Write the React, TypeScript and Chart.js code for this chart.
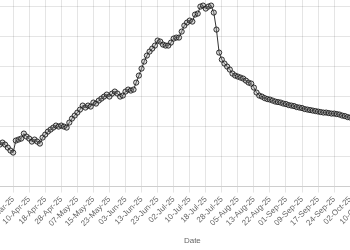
import React, { useEffect, useRef } from "react";
import { Chart, registerables } from "chart.js";

Chart.register(...registerables);

// Tick labels (every 6th category)
const TICK_LABELS = [
  "21-Mar-25", "31-Mar-25", "10-Apr-25", "18-Apr-25", "28-Apr-25", "07-May-25",
  "15-May-25", "23-May-25", "03-Jun-25", "13-Jun-25", "23-Jun-25", "02-Jul-25",
  "10-Jul-25", "18-Jul-25", "28-Jul-25", "05-Aug-25", "13-Aug-25", "22-Aug-25",
  "01-Sep-25", "09-Sep-25", "17-Sep-25", "24-Sep-25", "02-Oct-25", "10-Oct-25",
  "17-Oct-25",
];
const TICK_EVERY = 6;

// Series values (one per category)
const VALUES = [
  43, 42, 44, 42, 39, 36, 34, 46, 47, 48, 53, 50, 48, 45, 47, 45, 43, 49, 52, 55,
  57, 59, 61, 60, 61, 60, 59, 64, 68, 71, 74, 77, 81, 79, 81, 80, 84, 83, 86, 88,
  90, 92, 90, 93, 95, 93, 90, 91, 95, 97, 96, 97, 104, 111, 118, 125, 131, 135, 138, 141,
  146, 145, 142, 141, 141, 144, 148, 149, 149, 155, 161, 164, 166, 165, 172, 173, 180, 181, 178, 180,
  181, 174, 157, 134, 127, 123, 120, 117, 113, 111, 110, 109, 108, 106, 104, 103, 99, 94, 91, 90,
  88.5, 87.5, 87, 86, 85, 84.5, 84, 83, 82.5, 81.5, 81, 80.5, 79.5, 79, 78.5, 77.5, 77, 76.5, 76, 75.5,
  75, 74.5, 74, 74, 73.5, 73, 73, 72.5, 72, 71, 70.5, 69.5, 69, 68.5, 68, 67.5, 67, 66.5, 66, 65.5,
  65, 64.5, 64, 63.5, 63, 62.5, 62,
];

const Y_MIN = 0;
const Y_MAX = 210;
const Y_STEP = 30;

const LABELS = VALUES.map((_, i) =>
  i % TICK_EVERY === 0 ? TICK_LABELS[i / TICK_EVERY] ?? "" : ""
);

// Visible crop placement of the plot area (viewport pixels)
const AREA_LEFT = -3.05;
const AREA_WIDTH = 390.55;
const AREA_BOTTOM = 187;
const AREA_HEIGHT = 210;

export default function App() {
  const ref = useRef<HTMLCanvasElement | null>(null);

  useEffect(() => {
    const canvas = ref.current!;
    const W = 700;
    const H = 420;
    canvas.width = W;
    canvas.height = H;
    const font = { family: "'Liberation Sans', Arial, sans-serif", size: 8 };
    const chart = new Chart(canvas, {
      type: "line",
      data: {
        labels: LABELS,
        datasets: [
          {
            label: "Value",
            data: VALUES,
            borderColor: "rgba(30,30,30,0.9)",
            borderWidth: 1,
            pointRadius: 2.6,
            pointBorderWidth: 1,
            pointBorderColor: "rgba(20,20,20,0.85)",
            pointBackgroundColor: "rgba(150,150,150,0.35)",
            tension: 0,
            fill: false,
          },
        ],
      },
      options: {
        responsive: false,
        maintainAspectRatio: false,
        animation: false,
        layout: { padding: 0 },
        plugins: { legend: { display: false }, tooltip: { enabled: false } },
        scales: {
          x: {
            type: "category",
            grid: { color: "rgba(0,0,0,0.1)", tickLength: 6 },
            border: { color: "rgba(0,0,0,0.1)" },
            ticks: {
              autoSkip: false,
              minRotation: 45,
              maxRotation: 45,
              padding: 2,
              color: "#666",
              font,
              callback: function (this: any, value: any, index: number) {
                if (index % TICK_EVERY !== 0) return null;
                return LABELS[index];
              },
            },
            title: {
              display: true,
              text: "Date",
              color: "#666",
              font: { ...font, size: 8 },
              padding: { top: 6, bottom: 4 },
            },
          },
          y: {
            min: Y_MIN,
            max: Y_MAX,
            ticks: { display: false, stepSize: Y_STEP },
            grid: { color: "rgba(0,0,0,0.1)", drawTicks: false },
            border: { display: false },
          },
        },
      },
    });
    const a = chart.chartArea;
    chart.options.layout!.padding = {
      left: 0,
      top: a.bottom - AREA_HEIGHT,
      right: W - a.left - AREA_WIDTH,
      bottom: 0,
    };
    chart.update();
    const b = chart.chartArea;
    canvas.style.left = `${AREA_LEFT - b.left}px`;
    canvas.style.top = `${AREA_BOTTOM - b.bottom}px`;
    return () => chart.destroy();
  }, []);

  return (
    <div
      style={{
        position: "fixed",
        left: 0,
        top: 0,
        width: 350,
        height: 250,
        overflow: "hidden",
        background: "#fff",
      }}
    >
      <canvas ref={ref} style={{ position: "absolute", left: 0, top: 0 }} />
    </div>
  );
}
